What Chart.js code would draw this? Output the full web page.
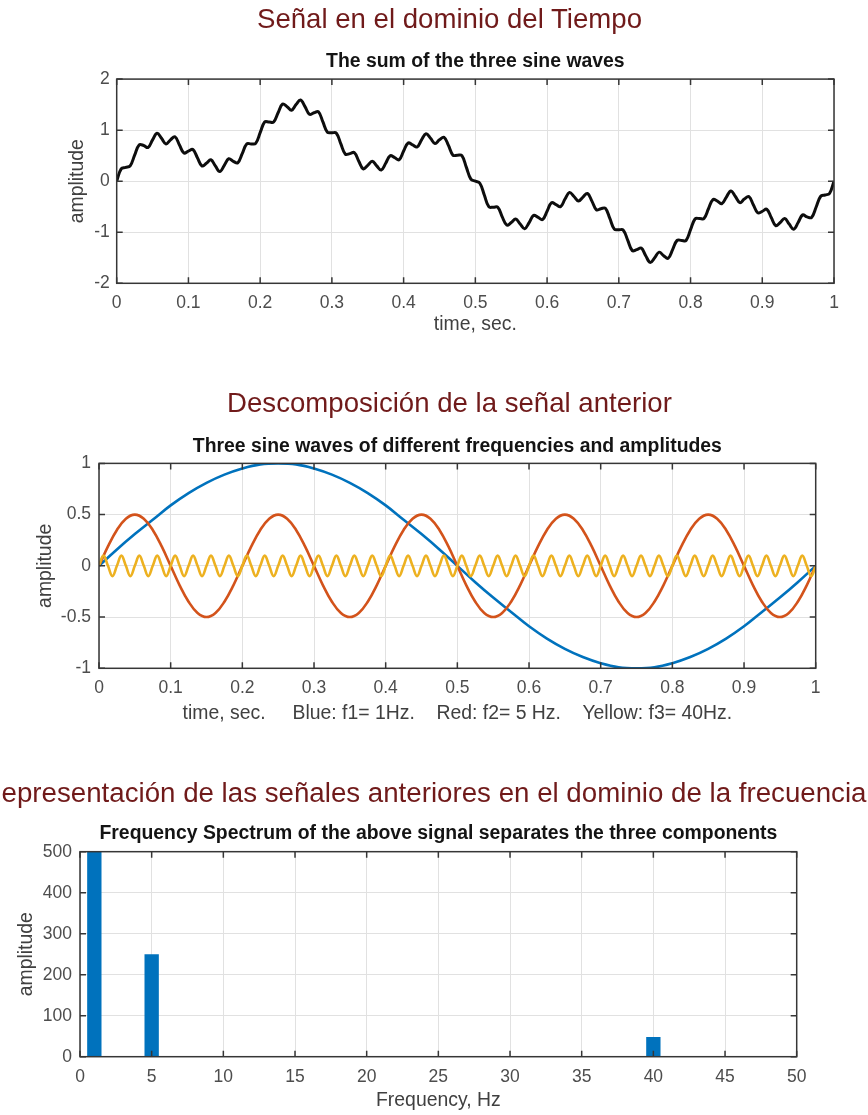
<!DOCTYPE html>
<html>
<head>
<meta charset="utf-8">
<script src="https://cdn.jsdelivr.net/npm/chart.js@4.4.1/dist/chart.umd.min.js"></script>
<style>
  html, body { margin: 0; padding: 0; background: #fff; }
  body { position: relative; width: 868px; height: 1115px; overflow: hidden;
         font-family: "Liberation Sans", Arial, Helvetica, sans-serif; }
  canvas { position: absolute; left: 0; }
  .heading { position: absolute; z-index: 2; width: 1000px; white-space: nowrap; text-align: center;
             color: #701a1a; font-size: 27.6px; line-height: 32px; }
</style>
</head>
<body>
<canvas id="timeChart" width="868" height="345" style="top:0"></canvas>
<canvas id="waveChart" width="868" height="385" style="top:345px"></canvas>
<canvas id="specChart" width="868" height="385" style="top:730px"></canvas>
<div class="heading" style="left:-50.5px; top:3.4px;">Señal en el dominio del Tiempo</div>
<div class="heading" style="left:-50.5px; top:387.4px;">Descomposición de la señal anterior</div>
<div class="heading" style="left:-76px; top:777.4px; font-size:27.7px;">Representación de las señales anteriores en el dominio de la frecuencia</div>
<script>
// ---- Time-domain signal: sum of the three components, one sample every 6.25 ms ----
const sumStep = 0.00625;
const sumSignal = [
  0, 0.24, 0.27, 0.30, 0.51, 0.71, 0.70, 0.66, 0.81, 0.94, 0.84, 0.73, 0.81, 0.87, 0.71, 0.55,
  0.59, 0.62, 0.46, 0.30, 0.35, 0.42, 0.30, 0.19, 0.31, 0.44, 0.39, 0.36, 0.54, 0.73, 0.73, 0.74,
  0.95, 1.16, 1.16, 1.16, 1.34, 1.51, 1.46, 1.39, 1.50, 1.59, 1.46, 1.31, 1.34, 1.36, 1.16, 0.96,
  0.95, 0.94, 0.73, 0.53, 0.54, 0.56, 0.39, 0.24, 0.31, 0.39, 0.30, 0.22, 0.35, 0.50, 0.46, 0.42,
  0.59, 0.75, 0.71, 0.67, 0.81, 0.93, 0.84, 0.74, 0.81, 0.86, 0.70, 0.51, 0.51, 0.50, 0.27, 0.04,
  0,
  -0.04, -0.27, -0.50, -0.51, -0.51, -0.70, -0.86, -0.81, -0.74, -0.84, -0.93, -0.81, -0.67, -0.71, -0.75, -0.59,
  -0.42, -0.46, -0.50, -0.35, -0.22, -0.30, -0.39, -0.31, -0.24, -0.39, -0.56, -0.54, -0.53, -0.73, -0.94, -0.95,
  -0.96, -1.16, -1.36, -1.34, -1.31, -1.46, -1.59, -1.50, -1.39, -1.46, -1.51, -1.34, -1.16, -1.16, -1.16, -0.95,
  -0.74, -0.73, -0.73, -0.54, -0.36, -0.39, -0.44, -0.31, -0.19, -0.30, -0.42, -0.35, -0.30, -0.46, -0.62, -0.59,
  -0.55, -0.71, -0.87, -0.81, -0.73, -0.84, -0.94, -0.81, -0.66, -0.70, -0.71, -0.51, -0.30, -0.27, -0.24, 0
];

// ---- The three components ----
// f1 = 1 Hz, amplitude 1, one sample every 25 ms
const wave1Step = 0.025;
const wave1Hz = [
  0, 0.16, 0.31, 0.45, 0.59, 0.71, 0.81, 0.89, 0.95, 0.99, 1, 0.99, 0.95, 0.89, 0.81, 0.71, 0.59, 0.45, 0.31, 0.16,
  0, -0.16, -0.31, -0.45, -0.59, -0.71, -0.81, -0.89, -0.95, -0.99, -1, -0.99, -0.95, -0.89, -0.81, -0.71, -0.59, -0.45, -0.31, -0.16,
  0
];
// f2 = 5 Hz, amplitude 0.5, one sample every 12.5 ms
const wave5Step = 0.0125;
const wave5Hz = [
  0, 0.19, 0.35, 0.46, 0.5, 0.46, 0.35, 0.19, 0, -0.19, -0.35, -0.46, -0.5, -0.46, -0.35, -0.19,
  0, 0.19, 0.35, 0.46, 0.5, 0.46, 0.35, 0.19, 0, -0.19, -0.35, -0.46, -0.5, -0.46, -0.35, -0.19,
  0, 0.19, 0.35, 0.46, 0.5, 0.46, 0.35, 0.19, 0, -0.19, -0.35, -0.46, -0.5, -0.46, -0.35, -0.19,
  0, 0.19, 0.35, 0.46, 0.5, 0.46, 0.35, 0.19, 0, -0.19, -0.35, -0.46, -0.5, -0.46, -0.35, -0.19,
  0, 0.19, 0.35, 0.46, 0.5, 0.46, 0.35, 0.19, 0, -0.19, -0.35, -0.46, -0.5, -0.46, -0.35, -0.19,
  0
];
// f3 = 40 Hz, amplitude 0.1, one sample every 6.25 ms
const wave40Step = 0.00625;
const wave40Hz = [
  0, 0.1, 0, -0.1, 0, 0.1, 0, -0.1, 0, 0.1, 0, -0.1, 0, 0.1, 0, -0.1, 0, 0.1, 0, -0.1, 0, 0.1, 0, -0.1, 0, 0.1, 0, -0.1, 0, 0.1, 0, -0.1,
  0, 0.1, 0, -0.1, 0, 0.1, 0, -0.1, 0, 0.1, 0, -0.1, 0, 0.1, 0, -0.1, 0, 0.1, 0, -0.1, 0, 0.1, 0, -0.1, 0, 0.1, 0, -0.1, 0, 0.1, 0, -0.1,
  0, 0.1, 0, -0.1, 0, 0.1, 0, -0.1, 0, 0.1, 0, -0.1, 0, 0.1, 0, -0.1, 0, 0.1, 0, -0.1, 0, 0.1, 0, -0.1, 0, 0.1, 0, -0.1, 0, 0.1, 0, -0.1,
  0, 0.1, 0, -0.1, 0, 0.1, 0, -0.1, 0, 0.1, 0, -0.1, 0, 0.1, 0, -0.1, 0, 0.1, 0, -0.1, 0, 0.1, 0, -0.1, 0, 0.1, 0, -0.1, 0, 0.1, 0, -0.1,
  0, 0.1, 0, -0.1, 0, 0.1, 0, -0.1, 0, 0.1, 0, -0.1, 0, 0.1, 0, -0.1, 0, 0.1, 0, -0.1, 0, 0.1, 0, -0.1, 0, 0.1, 0, -0.1, 0, 0.1, 0, -0.1,
  0
];

// ---- Frequency spectrum ----
const specFreqs = [1, 5, 40];
const specAmps = [500, 250, 48];

// ---- Tick values ----
const timeTicks = [0, 0.1, 0.2, 0.3, 0.4, 0.5, 0.6, 0.7, 0.8, 0.9, 1];
const sumTicks = [-2, -1, 0, 1, 2];
const waveTicks = [-1, -0.5, 0, 0.5, 1];
const freqTicks = [0, 5, 10, 15, 20, 25, 30, 35, 40, 45, 50];
const ampTicks = [0, 100, 200, 300, 400, 500];

// ---- Styling ----
const FAMILY = '"Liberation Sans", Arial, Helvetica, sans-serif';
const TICK_FONT = { family: FAMILY, size: 17.5 };
const LABEL_FONT = { family: FAMILY, size: 19.4 };
const TITLE_FONT = { family: FAMILY, size: 19.4, weight: 'bold' };
const TICK_COLOR = '#4d4d4d';
const LABEL_COLOR = '#404040';
const GRID_COLOR = '#e1e1e1';
const BLUE = '#0072BD';
const RED = '#D3531B';
const YELLOW = '#EDB120';

const toPoints = (values, step) => values.map((v, i) => ({ x: i * step, y: v }));

// Box around the plotting area with short inward tick marks on all four sides
const axesFrame = {
  id: 'axesFrame',
  afterDatasetsDraw(chart, args, opts) {
    const { ctx, chartArea: a, scales: { x, y } } = chart;
    ctx.save();
    ctx.strokeStyle = opts.color;
    ctx.lineWidth = opts.width;
    ctx.beginPath();
    x.ticks.forEach(t => {
      const px = x.getPixelForValue(t.value);
      ctx.moveTo(px, a.bottom); ctx.lineTo(px, a.bottom - opts.tickLen);
      ctx.moveTo(px, a.top); ctx.lineTo(px, a.top + opts.tickLen);
    });
    y.ticks.forEach(t => {
      const py = y.getPixelForValue(t.value);
      ctx.moveTo(a.left, py); ctx.lineTo(a.left + opts.tickLen, py);
      ctx.moveTo(a.right, py); ctx.lineTo(a.right - opts.tickLen, py);
    });
    ctx.stroke();
    ctx.strokeRect(a.left, a.top, a.right - a.left, a.bottom - a.top);
    ctx.restore();
  }
};

function makeOptions(p) {
  return {
    responsive: false,
    animation: false,
    devicePixelRatio: 1,
    layout: { padding: { left: p.padLeft, right: p.padRight, top: 0, bottom: p.padBottom } },
    plugins: {
      legend: { display: false },
      tooltip: { enabled: false },
      title: {
        display: true, text: p.title, fullSize: false, color: '#141414', font: TITLE_FONT,
        padding: { top: p.titleTop, bottom: p.titleBottom }
      },
      axesFrame: { color: '#363636', width: 1.5, tickLen: 6 }
    },
    scales: {
      x: {
        type: 'linear',
        min: p.xTicks[0],
        max: p.xTicks[p.xTicks.length - 1],
        offset: false,
        afterBuildTicks: s => { s.ticks = p.xTicks.map(v => ({ value: v })); },
        afterFit: s => { s.height = p.xHeight; },
        grid: { color: GRID_COLOR, drawTicks: false, offset: false },
        border: { display: false },
        ticks: { color: TICK_COLOR, font: TICK_FONT, padding: p.xTickPad, maxRotation: 0, autoSkip: false,
                 callback: v => String(v) },
        title: { display: true, text: p.xLabel, color: LABEL_COLOR, font: LABEL_FONT, padding: { top: 0, bottom: 0 } }
      },
      y: {
        type: 'linear',
        min: p.yTicks[0],
        max: p.yTicks[p.yTicks.length - 1],
        afterBuildTicks: s => { s.ticks = p.yTicks.map(v => ({ value: v })); },
        afterFit: s => { s.width = p.yWidth; },
        grid: { color: GRID_COLOR, drawTicks: false },
        border: { display: false },
        ticks: { color: TICK_COLOR, font: TICK_FONT, padding: p.yTickPad, autoSkip: false,
                 callback: v => String(v) },
        title: { display: true, text: 'amplitude', color: LABEL_COLOR, font: LABEL_FONT, padding: { top: 0, bottom: 0 } }
      }
    }
  };
}

// Chart 1: the sum of the three sine waves
new Chart(document.getElementById('timeChart'), {
  type: 'line',
  data: {
    datasets: [{
      data: toPoints(sumSignal, sumStep),
      borderColor: '#0d0d0d', borderWidth: 3, pointRadius: 0, tension: 0.4, fill: false
    }]
  },
  options: makeOptions({
    title: 'The sum of the three sine waves',
    titleTop: 49.8, titleBottom: 6,
    padLeft: 65.9, padRight: 34, padBottom: 8.4,
    xTicks: timeTicks, yTicks: sumTicks,
    xHeight: 53.3, yWidth: 50.8, xTickPad: 9.7, yTickPad: 7,
    xLabel: 'time, sec.'
  }),
  plugins: [axesFrame]
});

// Chart 2: the three components
new Chart(document.getElementById('waveChart'), {
  type: 'line',
  data: {
    datasets: [
      { label: 'f1 = 1 Hz', data: toPoints(wave1Hz, wave1Step), borderColor: BLUE, borderWidth: 2.6,
        pointRadius: 0, tension: 0.4, fill: false, order: 3 },
      { label: 'f2 = 5 Hz', data: toPoints(wave5Hz, wave5Step), borderColor: RED, borderWidth: 2.6,
        pointRadius: 0, tension: 0.4, fill: false, order: 2 },
      { label: 'f3 = 40 Hz', data: toPoints(wave40Hz, wave40Step), borderColor: YELLOW, borderWidth: 2.6,
        pointRadius: 0, tension: 0.4, fill: false, order: 1 }
    ]
  },
  options: makeOptions({
    title: 'Three sine waves of different frequencies and amplitudes',
    titleTop: 90.1, titleBottom: 5,
    padLeft: 34.4, padRight: 52.3, padBottom: 5,
    xTicks: timeTicks, yTicks: waveTicks,
    xHeight: 56.7, yWidth: 64.6, xTickPad: 9.7, yTickPad: 8,
    xLabel: 'time, sec.     Blue: f1= 1Hz.    Red: f2= 5 Hz.    Yellow: f3= 40Hz.'
  }),
  plugins: [axesFrame]
});

// Chart 3: frequency spectrum
new Chart(document.getElementById('specChart'), {
  type: 'bar',
  data: {
    datasets: [{
      data: specFreqs.map((f, i) => ({ x: f, y: specAmps[i] })),
      backgroundColor: BLUE, borderWidth: 0,
      categoryPercentage: 1, barPercentage: 0.25
    }]
  },
  options: makeOptions({
    title: 'Frequency Spectrum of the above signal separates the three components',
    titleTop: 92.4, titleBottom: 6,
    padLeft: 14.9, padRight: 71.3, padBottom: 3,
    xTicks: freqTicks, yTicks: ampTicks,
    xHeight: 55.3, yWidth: 65.1, xTickPad: 10.3, yTickPad: 8,
    xLabel: 'Frequency, Hz'
  }),
  plugins: [axesFrame]
});
</script>
</body>
</html>
